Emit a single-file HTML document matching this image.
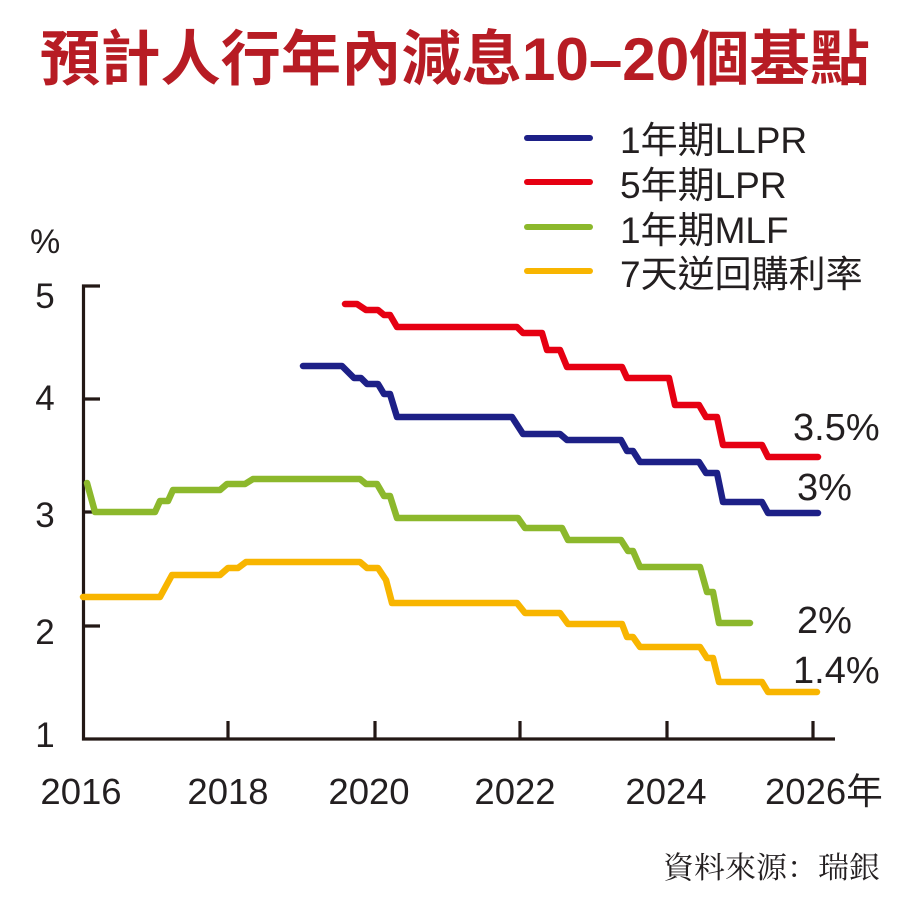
<!DOCTYPE html>
<html>
<head>
<meta charset="utf-8">
<style>
  html,body{margin:0;padding:0;background:#fff;}
  svg{display:block;}
  .t{font-family:"Liberation Sans","Noto Sans CJK TC",sans-serif;fill:#231f20;}
</style>
</head>
<body>
<svg width="907" height="906" viewBox="0 0 907 906" xmlns="http://www.w3.org/2000/svg">
  <rect width="907" height="906" fill="#fff"/>
  <!-- Title -->
  <text x="40" y="80" textLength="830" lengthAdjust="spacingAndGlyphs" font-family="'Liberation Sans','Noto Sans CJK TC',sans-serif" font-weight="bold" font-size="60" fill="#b71c24">預計人行年內減息10–20個基點</text>

  <!-- Legend -->
  <g stroke-width="6" stroke-linecap="round">
    <line x1="527" y1="138" x2="590" y2="138" stroke="#1d2087"/>
    <line x1="527" y1="182" x2="590" y2="182" stroke="#e60012"/>
    <line x1="527" y1="227" x2="590" y2="227" stroke="#8cb82c"/>
    <line x1="527" y1="271" x2="590" y2="271" stroke="#f8b500"/>
  </g>
  <g class="t" font-size="37">
    <text x="620" y="153">1年期LLPR</text>
    <text x="620" y="198">5年期LPR</text>
    <text x="620" y="243">1年期MLF</text>
    <text x="620" y="287">7天逆回購利率</text>
  </g>

  <!-- % label -->
  <text class="t" x="30" y="253" font-size="34">%</text>

  <!-- Y labels -->
  <g class="t" font-size="35" text-anchor="middle">
    <text x="45" y="308">5</text>
    <text x="45" y="410">4</text>
    <text x="45" y="527">3</text>
    <text x="45" y="644">2</text>
    <text x="45" y="747">1</text>
  </g>

  <!-- Axes -->
  <g stroke="#231815" stroke-width="3.2" fill="none">
    <polyline points="100,286 83.5,286 83.5,739 835,739"/>
    <line x1="83" y1="399" x2="100" y2="399"/>
    <line x1="83" y1="512" x2="100" y2="512"/>
    <line x1="83" y1="626" x2="100" y2="626"/>
    <line x1="228" y1="721" x2="228" y2="739"/>
    <line x1="375" y1="721" x2="375" y2="739"/>
    <line x1="520" y1="721" x2="520" y2="739"/>
    <line x1="667" y1="721" x2="667" y2="739"/>
    <line x1="813" y1="721" x2="813" y2="739"/>
  </g>

  <!-- X labels -->
  <g class="t" font-size="36.5" text-anchor="middle">
    <text x="81" y="804">2016</text>
    <text x="228" y="804">2018</text>
    <text x="369" y="804">2020</text>
    <text x="515" y="804">2022</text>
    <text x="666" y="804">2024</text>
  </g>
  <text class="t" x="765" y="804" font-size="36.5">2026年</text>

  <!-- Series -->
  <g fill="none" stroke-width="6.5" stroke-linecap="round" stroke-linejoin="round">
    <polyline stroke="#f8b500" points="83,597 160,597 172,575 220,575 228,568 238,568 246,562 360,562 367,568 378,568 386,580 392,603 517,603 525,613 560,613 568,624 622,624 627,637 633,637 640,647 700,647 707,658 713,658 719,682 762,682 768,692 817,692"/>
    <polyline stroke="#8cb82c" points="87,483 95,512 155,512 160,501 168,501 173,490 220,490 227,484 245,484 253,479 360,479 366,484 377,484 384,496 390,496 397,518 518,518 525,528 562,528 568,540 621,540 628,551 633,551 640,567 700,567 707,592 713,592 719,623 750,623"/>
    <polyline stroke="#1d2087" points="303,366 342,366 354,378 361,378 367,384 378,384 384,394 390,394 397,417 512,417 523,434 560,434 567,440 621,440 627,451 633,451 640,462 699,462 706,473 717,473 723,502 762,502 768,513 818,513"/>
    <polyline stroke="#e60012" points="345,304 357,304 366,310 378,310 384,315 390,315 397,327 517,327 523,333 542,333 547,350 560,350 567,367 622,367 627,378 669,378 675,405 699,405 706,417 717,417 723,445 762,445 768,457 818,457"/>
  </g>

  <!-- End labels -->
  <g class="t" font-size="38">
    <text x="793" y="440">3.5%</text>
    <text x="797" y="500">3%</text>
    <text x="797" y="633">2%</text>
    <text x="793" y="683">1.4%</text>
  </g>

  <!-- Source -->
  <text x="663" y="878" textLength="217" lengthAdjust="spacingAndGlyphs" font-family="'Noto Serif CJK SC','Noto Serif CJK TC','Noto Serif CJK JP','Liberation Serif',serif" font-size="30" fill="#231f20">資料來源：瑞銀</text>
</svg>
</body>
</html>
